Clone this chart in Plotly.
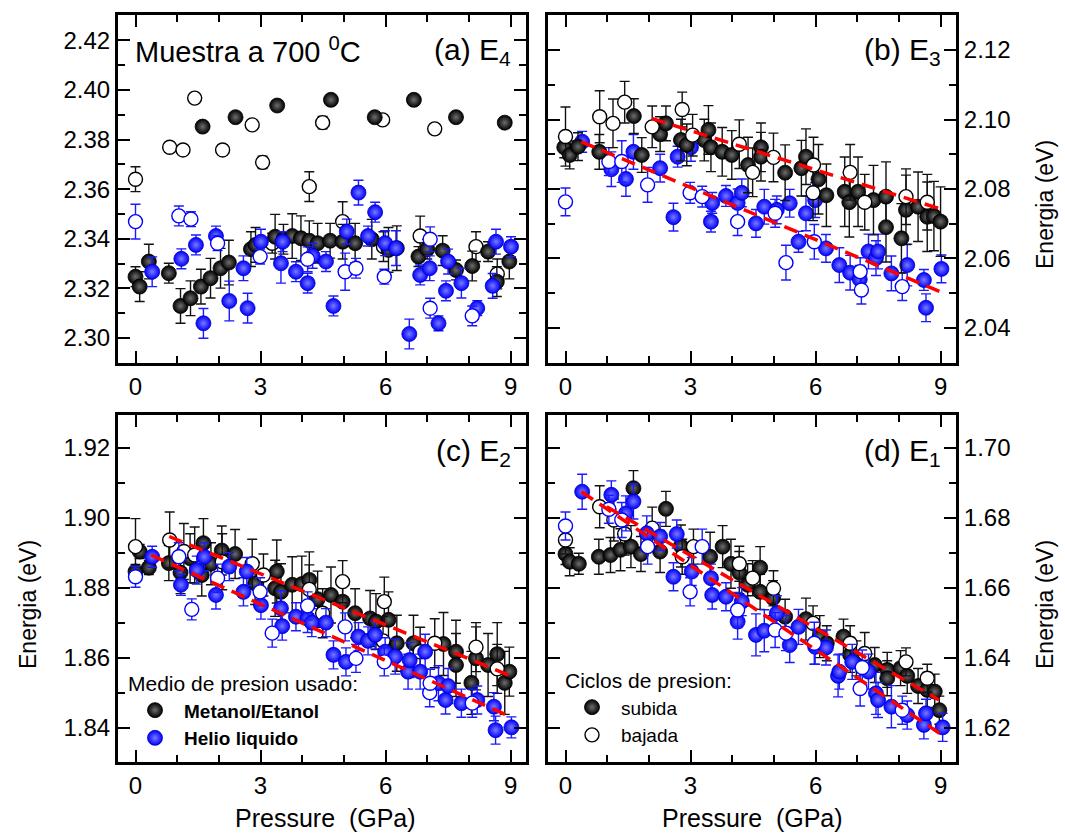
import plotly.graph_objects as go

# ---------------- data ----------------
# Panel (a) E4
A_MS_X = [0.00, 0.10, 0.32, 0.80, 1.08, 1.32, 1.57, 1.80, 2.04, 2.24, 2.77, 2.88, 3.35, 3.55, 3.76, 3.97, 4.17, 4.37, 4.67, 4.97, 5.27, 5.67, 6.07, 6.27, 6.79, 7.00, 7.37, 7.69, 8.08, 8.46, 8.67, 8.97]
A_MS_Y = [2.3247, 2.3207, 2.3308, 2.3261, 2.3129, 2.3160, 2.3207, 2.3241, 2.3281, 2.3304, 2.3358, 2.3375, 2.3408, 2.3398, 2.3411, 2.3402, 2.3392, 2.3382, 2.3392, 2.3388, 2.3382, 2.3398, 2.3355, 2.3362, 2.3328, 2.3358, 2.3352, 2.3274, 2.3290, 2.3348, 2.3227, 2.3308]
A_MS_E = [0.004, 0.006, 0.007, 0.004, 0.007, 0.007, 0.007, 0.008, 0.008, 0.009, 0.007, 0.007, 0.009, 0.006, 0.009, 0.009, 0.008, 0.008, 0.007, 0.007, 0.008, 0.008, 0.009, 0.009, 0.004, 0.004, 0.006, 0.004, 0.006, 0.004, 0.006, 0.007]
A_MSU_X = [1.61, 2.40, 3.40, 4.69, 5.74, 6.68, 7.69, 8.86]
A_MSU_Y = [2.3852, 2.3890, 2.3937, 2.3960, 2.3890, 2.3960, 2.3890, 2.3868]
A_MSU_E = [0.0015, 0.001, 0.0012, 0.0015, 0.0015, 0.0015, 0.002, 0.0015]
A_MB_X = [0.00, 0.82, 1.14, 1.42, 2.09, 2.80, 3.05, 3.28, 4.17, 4.49, 4.97, 5.93, 5.95, 6.83, 7.18, 8.17, 8.68]
A_MB_Y = [2.3640, 2.3769, 2.3758, 2.3967, 2.3758, 2.3859, 2.3708, 2.3382, 2.3610, 2.3868, 2.3469, 2.3879, 2.3368, 2.3411, 2.3843, 2.3368, 2.3258]
A_MB_E = [0.005, 0.002, 0.002, 0.001, 0.002, 0.001, 0.0025, 0.004, 0.006, 0.0025, 0.008, 0.0015, 0.006, 0.008, 0.002, 0.006, 0.006]
A_HS_X = [0.40, 1.10, 1.45, 1.63, 1.93, 2.25, 2.59, 2.69, 3.01, 3.49, 3.53, 3.85, 4.13, 4.25, 4.57, 4.75, 5.07, 5.35, 5.58, 5.75, 5.99, 6.25, 6.57, 6.83, 7.06, 7.27, 7.45, 7.50, 7.82, 8.20, 8.57, 8.65, 9.01]
A_HS_Y = [2.3267, 2.3319, 2.3375, 2.3059, 2.3411, 2.3149, 2.3281, 2.3120, 2.3388, 2.3301, 2.3388, 2.3267, 2.3221, 2.3331, 2.3308, 2.3129, 2.3429, 2.3586, 2.3411, 2.3507, 2.3382, 2.3362, 2.3016, 2.3254, 2.3281, 2.3059, 2.3190, 2.3308, 2.3221, 2.3120, 2.3210, 2.3388, 2.3368]
A_HS_E = [0.006, 0.004, 0.004, 0.006, 0.004, 0.008, 0.005, 0.006, 0.005, 0.008, 0.004, 0.004, 0.004, 0.005, 0.004, 0.004, 0.005, 0.005, 0.004, 0.004, 0.005, 0.007, 0.006, 0.004, 0.005, 0.003, 0.004, 0.005, 0.006, 0.003, 0.005, 0.005, 0.004]
A_HB_X = [0.00, 1.04, 1.33, 1.97, 2.99, 4.13, 5.03, 5.29, 5.97, 7.07, 7.07, 8.08]
A_HB_Y = [2.3469, 2.3492, 2.3479, 2.3382, 2.3328, 2.3317, 2.3267, 2.3281, 2.3247, 2.3120, 2.3398, 2.3089]
A_HB_E = [0.007, 0.004, 0.003, 0.003, 0.003, 0.005, 0.0075, 0.004, 0.003, 0.004, 0.005, 0.004]

# Panel (b) E3
B_MS_X = [-0.03, 0.10, 0.30, 0.81, 1.64, 1.83, 2.27, 2.41, 2.77, 2.91, 3.33, 3.43, 3.49, 3.76, 3.99, 4.38, 4.69, 4.69, 5.27, 5.66, 5.77, 6.07, 6.26, 6.70, 6.81, 7.02, 7.39, 7.69, 7.69, 8.06, 8.17, 8.46, 8.68, 8.84, 9.00]
B_MS_Y = [2.0920, 2.0898, 2.0922, 2.0907, 2.1010, 2.0898, 2.0958, 2.0989, 2.0941, 2.0927, 2.0941, 2.0970, 2.0920, 2.0907, 2.0898, 2.0869, 2.0920, 2.0893, 2.0847, 2.0860, 2.0893, 2.0828, 2.0782, 2.0792, 2.0762, 2.0792, 2.0768, 2.0778, 2.0690, 2.0658, 2.0740, 2.0749, 2.0720, 2.0722, 2.0706]
B_MS_E = [0.003, 0.004, 0.004, 0.005, 0.005, 0.005, 0.005, 0.005, 0.006, 0.006, 0.006, 0.007, 0.007, 0.007, 0.007, 0.008, 0.007, 0.007, 0.008, 0.008, 0.008, 0.010, 0.009, 0.010, 0.010, 0.010, 0.010, 0.010, 0.010, 0.010, 0.010, 0.010, 0.010, 0.010, 0.010]
B_MB_X = [0.00, 0.82, 1.14, 1.42, 2.08, 2.80, 3.05, 4.17, 4.49, 4.99, 5.94, 5.95, 6.83, 7.18, 8.17, 8.68]
B_MB_Y = [2.0951, 2.1008, 2.0989, 2.1050, 2.0979, 2.1029, 2.0955, 2.0929, 2.0848, 2.0891, 2.0789, 2.0869, 2.0848, 2.0762, 2.0778, 2.0762]
B_MB_E = [0.0085, 0.0075, 0.007, 0.006, 0.006, 0.005, 0.006, 0.007, 0.007, 0.007, 0.008, 0.008, 0.008, 0.008, 0.008, 0.008]
B_HS_X = [0.40, 1.10, 1.45, 1.63, 2.27, 2.59, 2.69, 3.01, 3.49, 3.52, 3.85, 4.13, 4.23, 4.57, 4.77, 5.07, 5.38, 5.59, 5.77, 5.99, 6.25, 6.57, 6.83, 7.06, 7.27, 7.45, 7.50, 7.82, 8.20, 8.60, 8.65, 9.02]
B_HS_Y = [2.0936, 2.0857, 2.0829, 2.0907, 2.0860, 2.0719, 2.0893, 2.0920, 2.0706, 2.0760, 2.0780, 2.0760, 2.0789, 2.0701, 2.0749, 2.0740, 2.0759, 2.0648, 2.0730, 2.0768, 2.0629, 2.0581, 2.0559, 2.0540, 2.0620, 2.0601, 2.0620, 2.0557, 2.0581, 2.0538, 2.0458, 2.0570]
B_HS_E = [0.003, 0.005, 0.005, 0.005, 0.004, 0.004, 0.003, 0.004, 0.003, 0.003, 0.003, 0.004, 0.004, 0.004, 0.005, 0.004, 0.004, 0.003, 0.005, 0.005, 0.004, 0.005, 0.005, 0.004, 0.005, 0.005, 0.005, 0.005, 0.006, 0.003, 0.004, 0.004]
B_HB_X = [0.00, 1.04, 1.35, 1.97, 2.99, 3.28, 4.13, 5.03, 5.29, 5.97, 7.07, 7.10, 8.08]
B_HB_Y = [2.0763, 2.0879, 2.0879, 2.0812, 2.0789, 2.0778, 2.0706, 2.0730, 2.0588, 2.0648, 2.0562, 2.0509, 2.0519]
B_HB_E = [0.004, 0.004, 0.006, 0.005, 0.003, 0.003, 0.004, 0.004, 0.005, 0.005, 0.004, 0.004, 0.004]
B_FIT_M_X = [2.07, 8.96]
B_FIT_M_Y = [2.1003, 2.0744]
B_FIT_H_X = [0.38, 9.00]
B_FIT_H_Y = [2.0936, 2.0504]

# Panel (c) E2
C_MS_X = [0.00, 0.10, 0.32, 0.80, 1.08, 1.31, 1.59, 1.63, 1.81, 2.07, 2.39, 2.87, 3.35, 3.39, 3.49, 3.76, 3.99, 4.17, 4.37, 4.69, 4.97, 5.27, 5.63, 5.77, 6.07, 6.27, 6.67, 7.39, 7.69, 7.69, 8.06, 8.17, 8.46, 8.68, 8.86, 8.97]
C_MS_Y = [1.8847, 1.8904, 1.8858, 1.8871, 1.8844, 1.8885, 1.8837, 1.8928, 1.8869, 1.8907, 1.8897, 1.8813, 1.8799, 1.8847, 1.8789, 1.8809, 1.8811, 1.8823, 1.8768, 1.8780, 1.8761, 1.8728, 1.8713, 1.8704, 1.8709, 1.8642, 1.8642, 1.8640, 1.8618, 1.8580, 1.8529, 1.8599, 1.8580, 1.8611, 1.8529, 1.8561]
C_MS_E = [0.002, 0.002, 0.002, 0.005, 0.006, 0.007, 0.006, 0.007, 0.006, 0.007, 0.007, 0.006, 0.008, 0.009, 0.008, 0.008, 0.008, 0.008, 0.008, 0.008, 0.007, 0.007, 0.008, 0.008, 0.008, 0.008, 0.008, 0.009, 0.009, 0.009, 0.009, 0.009, 0.009, 0.009, 0.009, 0.007]
C_MB_X = [0.00, 0.82, 1.16, 1.42, 2.08, 2.80, 3.07, 4.17, 4.49, 4.97, 5.94, 5.97, 6.83, 7.18, 8.17, 8.68]
C_MB_Y = [1.8918, 1.8937, 1.8904, 1.8894, 1.8875, 1.8869, 1.8837, 1.8796, 1.8728, 1.8818, 1.8649, 1.8761, 1.8618, 1.8642, 1.8631, 1.8569]
C_MB_E = [0.008, 0.008, 0.008, 0.008, 0.008, 0.007, 0.006, 0.007, 0.007, 0.006, 0.007, 0.007, 0.007, 0.007, 0.007, 0.007]
C_HS_X = [0.40, 1.09, 1.47, 1.65, 1.93, 2.25, 2.59, 2.67, 3.01, 3.49, 3.52, 3.85, 4.13, 4.23, 4.57, 4.75, 5.05, 5.35, 5.58, 5.75, 5.99, 6.23, 6.54, 6.58, 6.83, 6.95, 7.27, 7.44, 7.50, 7.82, 8.20, 8.60, 8.64, 9.02]
C_HS_Y = [1.8889, 1.8809, 1.8851, 1.8889, 1.8780, 1.8861, 1.8789, 1.8847, 1.8751, 1.8742, 1.8691, 1.8718, 1.8713, 1.8701, 1.8701, 1.8609, 1.8589, 1.8661, 1.8649, 1.8666, 1.8618, 1.8604, 1.8561, 1.8594, 1.8561, 1.8618, 1.8528, 1.8480, 1.8520, 1.8471, 1.8480, 1.8461, 1.8394, 1.8402]
C_HS_E = [0.003, 0.003, 0.004, 0.004, 0.004, 0.004, 0.004, 0.004, 0.004, 0.005, 0.004, 0.004, 0.004, 0.004, 0.004, 0.004, 0.004, 0.004, 0.004, 0.004, 0.004, 0.005, 0.005, 0.005, 0.005, 0.005, 0.005, 0.004, 0.005, 0.004, 0.004, 0.004, 0.004, 0.003]
C_HB_X = [0.00, 1.04, 1.35, 1.97, 2.99, 3.28, 4.13, 5.03, 5.29, 5.97, 7.06, 7.07, 8.08]
C_HB_Y = [1.8832, 1.8889, 1.8739, 1.8828, 1.8789, 1.8671, 1.8749, 1.8689, 1.8599, 1.8589, 1.8501, 1.8528, 1.8471]
C_HB_E = [0.003, 0.004, 0.003, 0.004, 0.004, 0.004, 0.004, 0.004, 0.004, 0.004, 0.004, 0.004, 0.004]
C_FIT_M_X = [0.81, 8.96]
C_FIT_M_Y = [1.8947, 1.8551]
C_FIT_H_X = [0.38, 9.00]
C_FIT_H_Y = [1.8894, 1.8432]

# Panel (d) E1
D_MS_X = [0.00, 0.10, 0.32, 0.80, 1.08, 1.32, 1.57, 1.63, 1.81, 2.27, 2.41, 2.77, 3.47, 3.77, 3.97, 4.17, 4.37, 4.67, 4.67, 4.98, 5.27, 5.77, 6.10, 6.27, 6.67, 6.83, 6.98, 7.42, 7.72, 7.72, 8.04, 8.20, 8.46, 8.68, 8.86, 8.97]
D_MS_Y = [1.6697, 1.6675, 1.6669, 1.6689, 1.6694, 1.6709, 1.6718, 1.6885, 1.6697, 1.6704, 1.6826, 1.6720, 1.6689, 1.6718, 1.6669, 1.6644, 1.6609, 1.6658, 1.6589, 1.6571, 1.6518, 1.6511, 1.6461, 1.6442, 1.6461, 1.6409, 1.6399, 1.6380, 1.6366, 1.6342, 1.6371, 1.6349, 1.6320, 1.6309, 1.6304, 1.6251]
D_MS_E = [0.003, 0.004, 0.003, 0.005, 0.005, 0.006, 0.006, 0.005, 0.005, 0.006, 0.005, 0.006, 0.007, 0.006, 0.007, 0.006, 0.006, 0.006, 0.005, 0.005, 0.005, 0.006, 0.006, 0.005, 0.005, 0.005, 0.005, 0.005, 0.005, 0.005, 0.005, 0.005, 0.005, 0.005, 0.005, 0.004]
D_MB_X = [0.00, 0.82, 1.16, 1.42, 2.08, 2.80, 3.07, 4.17, 4.49, 4.99, 5.94, 6.83, 7.18, 8.17, 8.68]
D_MB_Y = [1.6737, 1.6832, 1.6794, 1.6754, 1.6771, 1.6689, 1.6718, 1.6669, 1.6628, 1.6599, 1.6499, 1.6442, 1.6413, 1.6389, 1.6342]
D_MB_E = [0.004, 0.006, 0.006, 0.006, 0.006, 0.005, 0.005, 0.005, 0.005, 0.005, 0.005, 0.005, 0.006, 0.004, 0.004]
D_HS_X = [0.40, 1.10, 1.45, 1.63, 1.95, 2.27, 2.59, 2.67, 3.03, 3.49, 3.52, 3.85, 4.13, 4.23, 4.57, 4.77, 5.07, 5.38, 5.59, 5.99, 6.25, 6.54, 6.57, 6.88, 7.27, 7.45, 7.50, 7.82, 8.20, 8.60, 8.65, 9.05]
D_HS_Y = [1.6875, 1.6866, 1.6813, 1.6847, 1.6756, 1.6747, 1.6632, 1.6754, 1.6647, 1.6628, 1.6580, 1.6575, 1.6504, 1.6561, 1.6466, 1.6478, 1.6528, 1.6437, 1.6489, 1.6432, 1.6430, 1.6349, 1.6361, 1.6389, 1.6361, 1.6299, 1.6280, 1.6261, 1.6237, 1.6209, 1.6242, 1.6202]
D_HS_E = [0.005, 0.004, 0.005, 0.005, 0.005, 0.004, 0.004, 0.004, 0.004, 0.004, 0.004, 0.004, 0.005, 0.004, 0.006, 0.006, 0.005, 0.005, 0.005, 0.005, 0.005, 0.006, 0.005, 0.005, 0.005, 0.006, 0.005, 0.006, 0.004, 0.004, 0.004, 0.004]
D_HB_X = [0.00, 1.04, 1.35, 1.97, 2.99, 3.28, 4.13, 5.03, 5.29, 5.97, 7.07, 7.12, 8.08]
D_HB_Y = [1.6777, 1.6825, 1.6794, 1.6718, 1.6589, 1.6718, 1.6537, 1.6480, 1.6471, 1.6442, 1.6313, 1.6373, 1.6251]
D_HB_E = [0.004, 0.004, 0.005, 0.005, 0.004, 0.005, 0.005, 0.005, 0.005, 0.006, 0.005, 0.005, 0.004]
D_FIT_M_X = [0.99, 8.96]
D_FIT_M_Y = [1.6832, 1.6280]
D_FIT_H_X = [0.38, 9.00]
D_FIT_H_Y = [1.6875, 1.6183]

X_TICKS = [0, 3, 6, 9]
A_YTICKS = [2.30, 2.32, 2.34, 2.36, 2.38, 2.40, 2.42]
B_YTICKS = [2.04, 2.06, 2.08, 2.10, 2.12]
C_YTICKS = [1.84, 1.86, 1.88, 1.90, 1.92]
D_YTICKS = [1.62, 1.64, 1.66, 1.68, 1.70]

PANEL_LABELS = ["(a) E<sub>4</sub>", "(b) E<sub>3</sub>", "(c) E<sub>2</sub>", "(d) E<sub>1</sub>"]
LEG1_TITLE = "Medio de presion usado:"
LEG1_ITEMS = ["<b>Metanol/Etanol</b>", "<b>Helio liquido</b>"]
LEG2_TITLE = "Ciclos de presion:"
LEG2_ITEMS = ["subida", "bajada"]

# ---------------- styling ----------------
FONT = "Arial, Liberation Sans, Helvetica, sans-serif"
BLACK = "#000000"
BLUE = "#0000ff"
W, H = 1065, 836

BALL_BLACK = dict(symbol="circle", size=15, color="#000000",
                  gradient=dict(type="radial", color="#6e6e6e"),
                  line=dict(color="#000000", width=0.8))
BALL_BLUE = dict(symbol="circle", size=15, color="#0000ff",
                 gradient=dict(type="radial", color="#7a7aff"),
                 line=dict(color="#0000c8", width=0.8))
OPEN_BLACK = dict(symbol="circle", size=14, color="white", line=dict(color=BLACK, width=1.4))
OPEN_BLUE = dict(symbol="circle", size=14, color="white", line=dict(color=BLUE, width=1.4))

fig = go.Figure()


def err(arr, color):
    return dict(type="data", array=arr, visible=True, color=color, thickness=1.4, width=5)


def add_series(x, y, e, marker, ecolor, xa, ya):
    fig.add_trace(go.Scatter(x=x, y=y, mode="markers", marker=marker,
                             error_y=err(e, ecolor), xaxis=xa, yaxis=ya,
                             showlegend=False, hoverinfo="x+y"))


def add_fit(x, y, xa, ya):
    fig.add_trace(go.Scatter(x=x, y=y, mode="lines",
                             line=dict(color="#ff0000", width=3.5, dash="14px,8px"),
                             xaxis=xa, yaxis=ya, showlegend=False, hoverinfo="skip"))


ERR_BLACK = "#111111"
ERR_BLUE = "#1a1aff"

# panel a
add_series(A_MB_X, A_MB_Y, A_MB_E, OPEN_BLACK, ERR_BLACK, "x", "y")
add_series(A_MS_X, A_MS_Y, A_MS_E, BALL_BLACK, ERR_BLACK, "x", "y")
add_series(A_MSU_X, A_MSU_Y, A_MSU_E, BALL_BLACK, ERR_BLACK, "x", "y")
add_series(A_HS_X, A_HS_Y, A_HS_E, BALL_BLUE, ERR_BLUE, "x", "y")
add_series(A_HB_X, A_HB_Y, A_HB_E, OPEN_BLUE, ERR_BLUE, "x", "y")
# panel b
add_series(B_HS_X, B_HS_Y, B_HS_E, BALL_BLUE, ERR_BLUE, "x2", "y2")
add_series(B_HB_X, B_HB_Y, B_HB_E, OPEN_BLUE, ERR_BLUE, "x2", "y2")
add_series(B_MS_X, B_MS_Y, B_MS_E, BALL_BLACK, ERR_BLACK, "x2", "y2")
add_series(B_MB_X, B_MB_Y, B_MB_E, OPEN_BLACK, ERR_BLACK, "x2", "y2")
add_fit(B_FIT_M_X, B_FIT_M_Y, "x2", "y2")
add_fit(B_FIT_H_X, B_FIT_H_Y, "x2", "y2")
# panel c
add_series(C_MS_X, C_MS_Y, C_MS_E, BALL_BLACK, ERR_BLACK, "x3", "y3")
add_series(C_MB_X, C_MB_Y, C_MB_E, OPEN_BLACK, ERR_BLACK, "x3", "y3")
add_series(C_HS_X, C_HS_Y, C_HS_E, BALL_BLUE, ERR_BLUE, "x3", "y3")
add_series(C_HB_X, C_HB_Y, C_HB_E, OPEN_BLUE, ERR_BLUE, "x3", "y3")
add_fit(C_FIT_M_X, C_FIT_M_Y, "x3", "y3")
add_fit(C_FIT_H_X, C_FIT_H_Y, "x3", "y3")
# panel d
add_series(D_MS_X, D_MS_Y, D_MS_E, BALL_BLACK, ERR_BLACK, "x4", "y4")
add_series(D_MB_X, D_MB_Y, D_MB_E, OPEN_BLACK, ERR_BLACK, "x4", "y4")
add_series(D_HS_X, D_HS_Y, D_HS_E, BALL_BLUE, ERR_BLUE, "x4", "y4")
add_series(D_HB_X, D_HB_Y, D_HB_E, OPEN_BLUE, ERR_BLUE, "x4", "y4")
add_fit(D_FIT_M_X, D_FIT_M_Y, "x4", "y4")
add_fit(D_FIT_H_X, D_FIT_H_Y, "x4", "y4")

# legend entries
for name, mk in zip(LEG1_ITEMS, [BALL_BLACK, BALL_BLUE]):
    fig.add_trace(go.Scatter(x=[None], y=[None], mode="markers", marker=mk, name=name,
                             legend="legend", xaxis="x3", yaxis="y3"))
for name, mk in zip(LEG2_ITEMS, [BALL_BLACK, OPEN_BLACK]):
    fig.add_trace(go.Scatter(x=[None], y=[None], mode="markers", marker=mk, name=name,
                             legend="legend2", xaxis="x4", yaxis="y4"))

# ---------------- axes ----------------
XL = [118 / W, 526 / W]
XR = [548 / W, 956 / W]
YT = [1 - 363 / H, 1 - 15 / H]
YB = [1 - 762 / H, 1 - 415 / H]
XRANGE = [-0.42, 9.37]


def xaxis(domain, anchor):
    return dict(domain=domain, anchor=anchor, range=XRANGE, tickmode="array", tickvals=X_TICKS,
                ticks="inside", ticklen=12, tickwidth=2, tickcolor="black",
                minor=dict(tickmode="linear", tick0=0, dtick=1, ticks="inside", ticklen=7,
                           tickwidth=2, tickcolor="black"),
                showline=True, linewidth=3, linecolor="black", mirror="ticks",
                showgrid=False, zeroline=False,
                tickfont=dict(family=FONT, size=24, color="black"))


def yaxis(domain, anchor, rng, tickvals, side):
    return dict(domain=domain, anchor=anchor, range=rng, side=side, tickmode="array",
                tickvals=tickvals, tickformat=".2f",
                ticks="inside", ticklen=12, tickwidth=2, tickcolor="black",
                minor=dict(tickmode="linear", tick0=0, dtick=0.01, ticks="inside", ticklen=7,
                           tickwidth=2, tickcolor="black"),
                showline=True, linewidth=3, linecolor="black", mirror="ticks",
                showgrid=False, zeroline=False,
                tickfont=dict(family=FONT, size=24, color="black"))


layout = dict(
    width=W, height=H, margin=dict(l=0, r=0, t=0, b=0),
    paper_bgcolor="white", plot_bgcolor="white",
    font=dict(family=FONT, color="black"),
    xaxis=xaxis(XL, "y"), yaxis=yaxis(YT, "x", [2.2899, 2.4302], A_YTICKS, "left"),
    xaxis2=xaxis(XR, "y2"), yaxis2=yaxis(YT, "x2", [2.0299, 2.1301], B_YTICKS, "right"),
    xaxis3=xaxis(XL, "y3"), yaxis3=yaxis(YB, "x3", [1.8303, 1.9294], C_YTICKS, "left"),
    xaxis4=xaxis(XR, "y4"), yaxis4=yaxis(YB, "x4", [1.6103, 1.7094], D_YTICKS, "right"),
    legend=dict(x=126 / W, y=1 - 664 / H, xanchor="left", yanchor="top",
                bgcolor="rgba(0,0,0,0)", borderwidth=0, itemwidth=48,
                title=dict(text=LEG1_TITLE, font=dict(size=21, family=FONT)),
                font=dict(size=19, family=FONT), tracegroupgap=0),
    legend2=dict(x=563 / W, y=1 - 661 / H, xanchor="left", yanchor="top",
                 bgcolor="rgba(0,0,0,0)", borderwidth=0, itemwidth=48,
                 title=dict(text=LEG2_TITLE, font=dict(size=21, family=FONT)),
                 font=dict(size=19, family=FONT), tracegroupgap=0),
    showlegend=True,
)
fig.update_layout(**layout)

ann = []
# panel labels
for txt, xr, yc in zip(PANEL_LABELS, [513, 943, 513, 943], [52, 52, 452, 452]):
    ann.append(dict(text=txt, x=xr / W, y=1 - yc / H, xref="paper", yref="paper",
                    xanchor="right", yanchor="middle", showarrow=False,
                    font=dict(size=30, family=FONT, color="black")))
ann.append(dict(text="Muestra a 700 <sup>0</sup>C", x=133 / W, y=1 - 50 / H, xref="paper", yref="paper",
                xanchor="left", yanchor="middle", showarrow=False,
                font=dict(size=29, family=FONT, color="black")))
for xc in [325, 753]:
    ann.append(dict(text="Pressure  (GPa)", x=xc / W, y=1 - 818 / H, xref="paper", yref="paper",
                    xanchor="center", yanchor="middle", showarrow=False,
                    font=dict(size=25, family=FONT, color="black")))
for xc, yc in [(28, 605), (1045, 205), (1045, 605)]:
    ann.append(dict(text="Energia (eV)", x=xc / W, y=1 - yc / H, xref="paper", yref="paper",
                    xanchor="center", yanchor="middle", showarrow=False, textangle=-90,
                    font=dict(size=23, family=FONT, color="black")))
fig.update_layout(annotations=ann)

fig.write_html("out.html")
